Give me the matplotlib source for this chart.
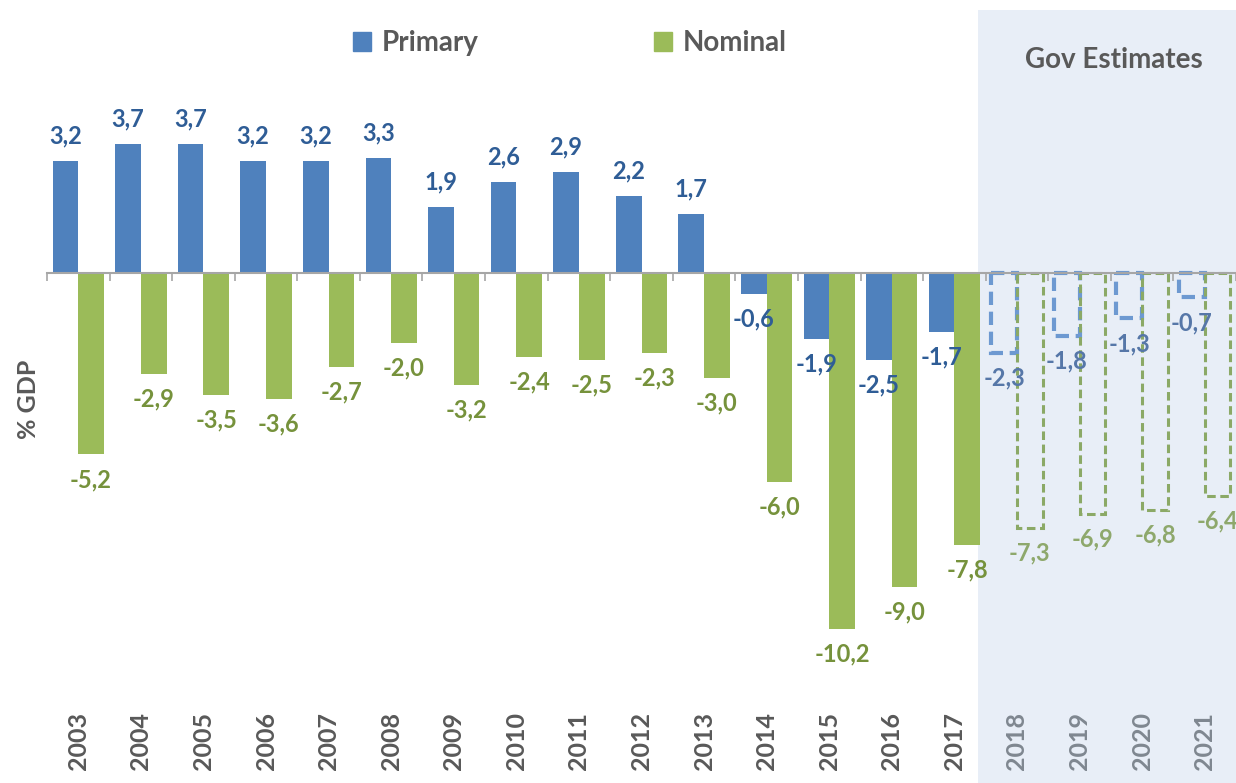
import matplotlib
matplotlib.use('Agg')
import matplotlib.pyplot as plt
import matplotlib.transforms as mtransforms
from matplotlib.patches import Patch, Rectangle
import numpy as np

plt.rcParams['font.family'] = ['Lato', 'DejaVu Sans']
plt.rcParams['font.weight'] = 'bold'

# data
years = [str(y) for y in range(2003, 2022)]
primary = [3.2, 3.7, 3.7, 3.2, 3.2, 3.3, 1.9, 2.6, 2.9, 2.2, 1.7,
           -0.6, -1.9, -2.5, -1.7, -2.3, -1.8, -1.3, -0.7]
nominal = [-5.2, -2.9, -3.5, -3.6, -2.7, -2.0, -3.2, -2.4, -2.5, -2.3, -3.0,
           -6.0, -10.2, -9.0, -7.8, -7.3, -6.9, -6.8, -6.4]
first_estimate = 15  # 2018 onwards are government estimates

c_primary = '#4F81BD'
c_nominal = '#9BBB59'
c_primary_lbl = '#2F5D96'
c_nominal_lbl = '#76923C'
c_primary_est = '#6D99D1'
c_nominal_est = '#8BA966'
c_primary_est_lbl = '#5677A8'
c_nominal_est_lbl = '#8EA86C'
c_grey = '#595959'
c_shade = '#E8EEF7'

fig = plt.figure(figsize=(12.36, 7.83), dpi=100)
ax = fig.add_axes([47 / 1236, (783 - 690) / 783, 1189 / 1236, 680 / 783])

x = np.arange(len(years))
w = 0.41
off = 0.205
act = x < first_estimate
est = ~act

# actual values
ax.bar(x[act] - off, np.array(primary)[act], w, color=c_primary, zorder=2)
ax.bar(x[act] + off, np.array(nominal)[act], w, color=c_nominal, zorder=2)

# estimates as dashed outlines
ax.bar(x[est] - off, np.array(primary)[est], w, facecolor='none',
       edgecolor=c_primary_est, linewidth=3.0, linestyle=(0, (3.2, 1.6)), zorder=2)
ax.bar(x[est] + off, np.array(nominal)[est], w, facecolor='none',
       edgecolor=c_nominal_est, linewidth=2.2, linestyle=(0, (2.8, 1.5)), zorder=2)

# shaded estimates region
trans = mtransforms.blended_transform_factory(ax.transData, ax.transAxes)
ax.add_patch(Rectangle((14.38, -0.2), 10, 1.2, transform=trans,
                       facecolor=c_shade, edgecolor='none', zorder=0, clip_on=False))


def fmt(v):
    return f"{v:.1f}".replace('.', ',')


for i in range(len(years)):
    for val, xo, col, col_est in [(primary[i], -off, c_primary_lbl, c_primary_est_lbl),
                                  (nominal[i], off, c_nominal_lbl, c_nominal_est_lbl)]:
        c = col if i < first_estimate else col_est
        dy = 18 if val > 0 else -18
        ax.annotate(fmt(val), (x[i] + xo, val), xytext=(0, dy), textcoords='offset points',
                    ha='center', va='center', fontsize=17, fontweight='bold', color=c,
                    zorder=3)

# year labels
for i, y in enumerate(years):
    c = c_grey if i < first_estimate else '#7F8790'
    ax.text(x[i], -0.075, y, transform=trans, rotation=90, ha='center', va='center',
            fontsize=18, fontweight='bold', color=c)

ax.set_xlim(-0.5, 18.49)
ax.set_ylim(-11.95, 7.54)

for s in ['top', 'right', 'left']:
    ax.spines[s].set_visible(False)
ax.spines['bottom'].set_position(('data', 0))
ax.spines['bottom'].set_color('#A6A6A6')
ax.spines['bottom'].set_linewidth(1.5)
ax.spines['bottom'].set_zorder(4)
ax.set_xticks(np.arange(-0.5, 19, 1))
ax.set_xticklabels([])
ax.tick_params(axis='x', length=6, width=1.2, color='#A6A6A6', direction='out')
ax.set_yticks([])
ax.patch.set_visible(False)

fig.text(28 / 1236, 1 - 399 / 783, '% GDP', rotation=90, ha='center', va='center',
         fontsize=18, fontweight='bold', color=c_grey)
fig.text(1114 / 1236, 1 - 60 / 783, 'Gov Estimates', ha='center', va='center',
         fontsize=20, fontweight='bold', color=c_grey)

handles = [Patch(color=c_primary, label='Primary'), Patch(color=c_nominal, label='Nominal')]
fig.legend(handles=handles, loc='center', bbox_to_anchor=(0.461, 0.945), ncol=2,
           frameon=False, handlelength=0.65, handleheight=0.65, handletextpad=0.4,
           columnspacing=6.3, prop={'size': 20, 'weight': 'bold'}, labelcolor=c_grey)

fig.savefig('out.png', dpi=100)
